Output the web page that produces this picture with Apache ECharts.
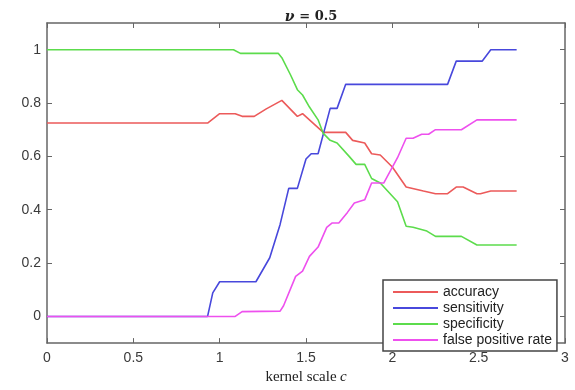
<!DOCTYPE html>
<html lang="en">
<head>
    <meta charset="utf-8">
    <title>kernel scale</title>
    <script type="text/javascript" src="https://cdn.jsdelivr.net/npm/echarts@6/dist/echarts.min.js"></script>
    <style>
        html, body { margin: 0; padding: 0; background: #fff; }
        #main { width: 575px; height: 390px; }
    </style>
</head>
<body>
<div id="main"></div>

<script>
    // values
    var accX = [0, 0.93, 1.0, 1.09, 1.13, 1.2, 1.27, 1.36, 1.45, 1.48, 1.6, 1.73, 1.77, 1.84, 1.88, 1.93, 2.0, 2.08, 2.18, 2.25, 2.32, 2.37, 2.41, 2.49, 2.51, 2.57, 2.72];
    var accY = [0.725, 0.725, 0.76, 0.76, 0.75, 0.75, 0.778, 0.81, 0.75, 0.76, 0.69, 0.69, 0.66, 0.65, 0.61, 0.605, 0.56, 0.485, 0.47, 0.46, 0.46, 0.485, 0.485, 0.46, 0.46, 0.47, 0.47];

    var senX = [0, 0.93, 0.96, 1.0, 1.21, 1.29, 1.35, 1.40, 1.45, 1.50, 1.53, 1.57, 1.64, 1.68, 1.73, 2.32, 2.37, 2.52, 2.57, 2.72];
    var senY = [0, 0, 0.088, 0.13, 0.13, 0.22, 0.345, 0.48, 0.48, 0.59, 0.61, 0.61, 0.78, 0.78, 0.87, 0.87, 0.957, 0.957, 1.0, 1.0];

    var speX = [0, 1.08, 1.12, 1.34, 1.36, 1.41, 1.45, 1.48, 1.52, 1.57, 1.60, 1.64, 1.68, 1.75, 1.79, 1.84, 1.88, 1.93, 2.03, 2.08, 2.12, 2.20, 2.25, 2.40, 2.49, 2.72];
    var speY = [1, 1, 0.986, 0.986, 0.97, 0.906, 0.85, 0.83, 0.785, 0.737, 0.686, 0.66, 0.65, 0.60, 0.57, 0.57, 0.517, 0.50, 0.43, 0.338, 0.334, 0.32, 0.30, 0.30, 0.268, 0.268];

    var fprX = [0, 1.09, 1.13, 1.35, 1.37, 1.44, 1.48, 1.52, 1.57, 1.62, 1.65, 1.69, 1.74, 1.78, 1.84, 1.88, 1.92, 1.95, 2.03, 2.08, 2.12, 2.17, 2.21, 2.25, 2.40, 2.49, 2.72];
    var fprY = [0, 0, 0.018, 0.02, 0.04, 0.15, 0.17, 0.225, 0.26, 0.334, 0.35, 0.35, 0.39, 0.425, 0.437, 0.50, 0.50, 0.50, 0.595, 0.668, 0.668, 0.683, 0.683, 0.70, 0.70, 0.737, 0.737];

    var yTicks = [0, 0.2, 0.4, 0.6, 0.8, 1];
    var names = ['accuracy', 'sensitivity', 'specificity', 'false positive rate'];

    function pairs(xs, ys) {
        return xs.map(function (x, i) { return [x, ys[i]]; });
    }

    var axisColor = '#666';
    var tickFont = { color: '#3a3a3a', fontSize: 14, fontFamily: 'Liberation Sans, Arial, sans-serif' };

    function boxLine() {
        return { show: true, onZero: false, lineStyle: { color: axisColor, width: 1.5 } };
    }

    var myChart = echarts.init(document.getElementById('main'));
    var option = {
        animation: false,
        title: {
            text: '{i|ν} {b|= 0.5}',
            left: 306,
            textAlign: 'center',
            top: 3,
            textStyle: {
                rich: {
                    i: { fontFamily: 'DejaVu Serif, serif', fontStyle: 'italic', fontSize: 14, color: '#222' },
                    b: { fontFamily: 'DejaVu Serif, serif', fontWeight: 'bold', fontSize: 13, color: '#222' }
                }
            }
        },
        grid: { left: 47, right: 10, top: 23, bottom: 39 },
        legend: {
            orient: 'vertical',
            left: 383,
            top: 280,
            data: names,
            icon: 'path://M0,0 L45,0 L45,2 L0,2 Z',
            itemWidth: 45,
            itemHeight: 12,
            itemGap: 2,
            padding: [5, 5, 4, 10],
            backgroundColor: '#fff',
            borderColor: '#444',
            borderWidth: 1.5,
            borderRadius: 0,
            textStyle: { color: '#222', fontSize: 14, fontFamily: 'Liberation Sans, Arial, sans-serif' }
        },
        xAxis: [{
            type: 'value',
            min: 0, max: 3, interval: 0.5,
            name: '{n|kernel scale} {c|c}',
            nameLocation: 'middle',
            nameGap: 23,
            nameTextStyle: {
                rich: {
                    n: { fontFamily: 'Liberation Serif, serif', fontSize: 15, color: '#222' },
                    c: { fontFamily: 'Liberation Serif, serif', fontStyle: 'italic', fontSize: 15, color: '#222' }
                }
            },
            axisLine: boxLine(),
            axisTick: { inside: true, length: 5, lineStyle: { color: axisColor } },
            axisLabel: Object.assign({ margin: 8 }, tickFont),
            splitLine: { show: false }
        }, {
            type: 'value',
            position: 'top',
            min: 0, max: 3, interval: 0.5,
            axisLine: boxLine(),
            axisTick: { inside: true, length: 5, lineStyle: { color: axisColor } },
            axisLabel: { show: false },
            splitLine: { show: false }
        }],
        yAxis: [{
            type: 'value',
            min: -0.1, max: 1.1,
            axisLine: boxLine(),
            axisTick: { inside: true, length: 5, customValues: yTicks, lineStyle: { color: axisColor } },
            axisLabel: Object.assign({ margin: 6, customValues: yTicks }, tickFont),
            splitLine: { show: false }
        }, {
            type: 'value',
            position: 'right',
            min: -0.1, max: 1.1,
            axisLine: boxLine(),
            axisTick: { inside: true, length: 5, customValues: yTicks, lineStyle: { color: axisColor } },
            axisLabel: { show: false },
            splitLine: { show: false }
        }],
        series: [
            { name: names[0], type: 'line', symbol: 'none', data: pairs(accX, accY), color: '#ec5a5a', lineStyle: { width: 1.6 } },
            { name: names[1], type: 'line', symbol: 'none', data: pairs(senX, senY), color: '#4848dc', lineStyle: { width: 1.6 } },
            { name: names[2], type: 'line', symbol: 'none', data: pairs(speX, speY), color: '#5cdc4c', lineStyle: { width: 1.6 } },
            { name: names[3], type: 'line', symbol: 'none', data: pairs(fprX, fprY), color: '#ee50ee', lineStyle: { width: 1.6 } }
        ]
    };
    myChart.setOption(option);
</script>
</body>
</html>
